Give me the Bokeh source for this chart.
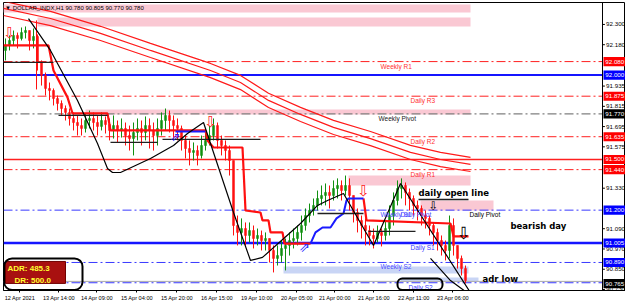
from bokeh.plotting import figure
from bokeh.models import Range1d, FixedTicker, Span, BoxAnnotation
from bokeh.core.properties import value
from bokeh.embed import file_html
from bokeh.resources import INLINE

# ---------------- data ----------------
# H1 candles sampled every 2 bars (bar index, price)
first_open = 92.146
close = [92.175, 92.205, 92.235, 92.217, 92.252, 92.264, 92.205, 92.229, 92.075, 91.998,
         91.921, 91.909, 91.861, 91.832, 91.802, 91.779, 91.743, 91.719, 91.701, 91.684,
         91.731, 91.743, 91.719, 91.696, 91.731, 91.707, 91.672, 91.701, 91.672, 91.684,
         91.642, 91.624, 91.660, 91.684, 91.660, 91.701, 91.672, 91.642, 91.684, 91.731,
         91.761, 91.731, 91.701, 91.684, 91.613, 91.565, 91.542, 91.553, 91.524, 91.583,
         91.613, 91.642, 91.701, 91.613, 91.583, 91.553, 91.494, 91.109, 91.068, 91.091,
         91.050, 91.079, 91.032, 91.050, 91.020, 91.032, 90.961, 90.914, 90.931, 90.973,
         90.991, 91.020, 91.032, 91.068, 91.109, 91.168, 91.198, 91.228, 91.269, 91.287,
         91.305, 91.287, 91.328, 91.346, 91.316, 91.346, 91.287, 91.186, 91.139, 91.109,
         91.079, 91.050, 91.032, 91.068, 91.050, 91.091, 91.168, 91.257, 91.328, 91.346,
         91.305, 91.269, 91.228, 91.210, 91.168, 91.151, 91.109, 91.068, 91.020, 90.991,
         90.961, 91.109, 90.991, 90.914, 90.854, 90.783]
high = [92.217, 92.235, 92.264, 92.252, 92.282, 92.288, 92.264, 92.276, 92.241, 92.087,
        92.015, 91.956, 91.921, 91.879, 91.850, 91.820, 91.802, 91.779, 91.761, 91.743,
        91.773, 91.790, 91.779, 91.761, 91.779, 91.755, 91.743, 91.761, 91.731, 91.743,
        91.719, 91.701, 91.719, 91.743, 91.731, 91.755, 91.743, 91.719, 91.743, 91.779,
        91.802, 91.790, 91.761, 91.743, 91.701, 91.642, 91.613, 91.601, 91.583, 91.642,
        91.684, 91.701, 91.743, 91.719, 91.642, 91.613, 91.583, 91.494, 91.168, 91.151,
        91.127, 91.127, 91.109, 91.091, 91.079, 91.068, 91.032, 90.991, 90.991, 91.020,
        91.032, 91.068, 91.091, 91.109, 91.168, 91.210, 91.239, 91.269, 91.316, 91.346,
        91.358, 91.346, 91.376, 91.388, 91.376, 91.405, 91.388, 91.287, 91.210, 91.168,
        91.151, 91.109, 91.091, 91.109, 91.091, 91.139, 91.228, 91.305, 91.376, 91.388,
        91.364, 91.328, 91.287, 91.257, 91.228, 91.198, 91.168, 91.127, 91.091, 91.050,
        91.020, 91.168, 91.151, 90.991, 90.931, 90.872]
low = [92.087, 92.146, 92.175, 92.158, 92.205, 92.217, 92.146, 92.158, 92.027, 91.938,
       91.879, 91.850, 91.820, 91.790, 91.761, 91.731, 91.701, 91.672, 91.642, 91.642,
       91.660, 91.684, 91.672, 91.642, 91.672, 91.654, 91.613, 91.624, 91.601, 91.630,
       91.583, 91.553, 91.524, 91.613, 91.583, 91.613, 91.565, 91.553, 91.583, 91.642,
       91.672, 91.660, 91.624, 91.613, 91.553, 91.506, 91.465, 91.494, 91.465, 91.506,
       91.553, 91.583, 91.613, 91.565, 91.524, 91.494, 91.405, 91.050, 90.991, 90.991,
       90.991, 91.008, 90.973, 90.991, 90.961, 90.961, 90.890, 90.831, 90.872, 90.890,
       90.843, 90.931, 90.973, 90.991, 91.020, 91.079, 91.127, 91.168, 91.198, 91.228,
       91.228, 91.210, 91.257, 91.269, 91.257, 91.287, 91.198, 91.127, 91.068, 91.032,
       90.991, 90.991, 90.973, 91.008, 90.985, 91.020, 91.050, 91.109, 91.228, 91.269,
       91.228, 91.198, 91.168, 91.139, 91.109, 91.091, 91.050, 90.991, 90.961, 90.931,
       90.902, 90.914, 90.931, 90.854, 90.813, 90.766]

# moving-average envelope (bar, price)
env_bar = [0, 23.5, 48.5, 73.5, 103.5, 118.5, 132.5, 148.5, 165, 183.5, 203.5, 218.5, 233.5]
env_upper = [92.437, 92.377, 92.289, 92.188, 92.069, 91.998, 91.892, 91.809, 91.732, 91.666, 91.584, 91.542, 91.513]
env_mid = [92.395, 92.335, 92.247, 92.146, 92.027, 91.956, 91.850, 91.767, 91.690, 91.624, 91.542, 91.500, 91.471]
env_lower = [92.353, 92.293, 92.205, 92.104, 91.985, 91.914, 91.808, 91.725, 91.648, 91.582, 91.500, 91.458, 91.429]

# trailing stop lines
red_bar_a = [0, 22.5, 25, 32, 34.5, 52, 53.5, 101, 102, 105, 119.5, 121, 128.5, 129.5, 132.5, 133.5, 139.5, 140.5, 153.5]
red_val_a = [92.176, 92.176, 92.027, 91.868, 91.773, 91.773, 91.672, 91.672, 91.613, 91.571, 91.571, 91.198, 91.186, 91.139, 91.139, 91.068, 91.068, 91.002, 91.002]
red_bar_b = [180, 181.5, 223.5, 225, 232.5]
red_val_b = [91.269, 91.139, 91.121, 91.045, 91.045]
blue_bar_a = [153.5, 156, 159.5, 163.5, 166.5, 170, 171.5, 172.5, 180]
blue_val_a = [91.002, 91.068, 91.097, 91.097, 91.151, 91.180, 91.257, 91.269, 91.269]
blue_bar_b = [86, 101]
blue_val_b = [91.666, 91.666]
red_spike_bar = [16.5, 16.5]
red_spike_val = [92.324, 91.915]

# zigzag
zz_bar = [12.5, 23.5, 37, 47, 52, 54.5, 58.5, 73.5, 85, 92, 100, 115, 123.5, 129.5, 148.5, 157, 162, 170, 185, 198.5, 235]
zz_val = [92.335, 92.146, 91.850, 91.595, 91.447, 91.423, 91.423, 91.506, 91.583, 91.654, 91.719, 91.186, 90.902,
          90.920, 91.121, 91.228, 91.257, 91.299, 90.991, 91.358, 90.683]
zz2_bar = [213.5, 223.5, 235]
zz2_val = [90.914, 90.783, 90.683]

# daily open segments
dopen_x0 = [0, 27.5, 53.5, 79.5, 157, 182.5, 207.5]
dopen_x1 = [25, 52, 77, 128.5, 180, 206, 232.5]
dopen_val = [92.075, 91.761, 91.601, 91.619, 91.180, 91.074, 91.263]

# supply / demand zones
zone_x0 = [0, 17, 41, 172.5, 208.5, 140, 198.5]
zone_x1 = [233.5, 233.5, 233.5, 233.5, 245, 232.5, 237.5]
zone_lo = [92.371, 92.288, 91.767, 91.346, 91.198, 90.825, 90.781]
zone_hi = [92.418, 92.341, 91.796, 91.405, 91.257, 90.866, 90.801]
zone_col = ["#fac8d3", "#fac8d3", "#fac8d3", "#fac8d3", "#fac8d3", "#c9d5f5", "#c9d5f5"]

# pivot levels
level_val = [92.080, 92.000, 91.875, 91.770, 91.635, 91.500, 91.440, 91.200, 91.005, 90.890, 90.770, 90.778]
level_col = ["#ff2020", "#1515ff", "#ff2020", "#808080", "#ff2020", "#ff2020", "#ff2020", "#3a3aff", "#1515ff", "#3a3aff", "#3a3aff", "#a8a8a8"]
level_dash = ["9 3 2 3", "solid", "9 3 2 3", "9 3 2 3", "9 3 2 3", "solid", "9 3 2 3", "9 3 2 3", "solid", "9 3 2 3", "9 3 2 3", "solid"]
level_w = [1, 2, 1, 1.2, 1, 1.5, 1, 1, 2.5, 1, 1, 1]

lvl_text = ["Weekly R1", "Daily R3", "Weekly Pivot", "Daily R2", "Daily R1", "Weekly S1", "Daily Pivot", "Daily S1", "Weekly S2", "Daily S2"]
lvl_text_val = [92.080, 91.875, 91.770, 91.635, 91.440, 91.200, 91.200, 91.005, 90.890, 90.770]
lvl_text_bar = [188.5, 203.5, 187.5, 203.5, 203.5, 188.5, 198.5, 203.5, 188.5, 202.5]
lvl_text_col = ["#ff3030", "#ff3030", "#202020", "#ff3030", "#ff3030", "#4a4aff", "#4a4aff", "#3a3aff", "#4a4aff", "#3a3aff"]

# price tags on the right scale
tag_val = [92.080, 92.000, 91.875, 91.770, 91.635, 91.500, 91.440, 91.200, 91.005, 90.890, 90.765]
tag_bg = ["#ff0000", "#0000ff", "#ff0000", "#000000", "#ff0000", "#ff0000", "#ff0000", "#0000ff", "#0000ff", "#0000ff", "#000000"]

# arrows
arrow_bar = [3, 103.5, 180, 215, 230, 150.5, 86]
arrow_val = [92.247, 91.725, 91.316, 91.222, 91.062, 90.979, 91.636]
arrow_sym = ["⇩", "⇩", "⇩", "⇩", "⇩", "⇗", "⇗"]
arrow_col = ["#ff2020", "#ff2020", "#ff2020", "#000000", "#000000", "#2020ff", "#2020ff"]
arrow_size = ["15px", "15px", "15px", "12px", "17px", "13px", "12px"]

# axis ticks
price_ticks = [92.300, 92.180, 91.935, 91.815, 91.695, 91.575, 91.330, 91.090, 90.970, 90.850, 90.730]
time_bars = [0, 19.5, 38.5, 58.5, 78.5, 98.5, 118.5, 138.5, 157.5, 177, 197, 216.5]
time_labels = ["12 Apr 2021", "13 Apr 14:00", "14 Apr 09:00", "15 Apr 04:00", "15 Apr 20:00", "16 Apr 15:00",
               "19 Apr 10:00", "20 Apr 05:00", "21 Apr 00:00", "21 Apr 16:00", "22 Apr 11:00", "23 Apr 06:00"]

title_text = "DOLLAR_INDX,H1  90.780 90.805 90.770 90.780"
adr_lines = ["ADR: 485.3", "DR: 500.0"]

# chart area ends at bar CHART_END, price scale occupies the rest
CHART_END = 299.5
X_END = 311.0
LABEL_SHIFT = 8.2  # labels start at their bar (MT4 style): tick placed at label centre

# ---------------- figure ----------------
FONT = "Liberation Sans"
p = figure(width=625, height=306, output_backend="svg", toolbar_location=None,
           x_range=Range1d(0, X_END), y_range=Range1d(90.724, 92.430),
           y_axis_location=None, min_border_left=3, min_border_top=2,
           min_border_right=0, min_border_bottom=16)
p.xgrid.visible = False
p.ygrid.visible = False
p.outline_line_color = "black"
p.background_fill_color = "white"

tick_pos = [b + LABEL_SHIFT for b in time_bars]
ax = p.xaxis[0]
ax.axis_line_color = "black"
ax.major_tick_line_color = "black"
ax.minor_tick_line_color = None
ax.major_tick_in = 0
ax.major_tick_out = 2
ax.major_label_standoff = 2
ax.major_label_text_font = FONT
ax.major_label_text_font_size = "5.6px"
ax.major_label_text_color = "black"
ax.ticker = FixedTicker(ticks=tick_pos)
ax.major_label_overrides = {t: s for t, s in zip(tick_pos, time_labels)}

# zones
p.quad(left=zone_x0, right=zone_x1, bottom=zone_lo, top=zone_hi, fill_color=zone_col, line_color=None)

# levels (stop at the price scale)
for v, c, d, w in zip(level_val, level_col, level_dash, level_w):
    p.segment(x0=[0], y0=[v], x1=[CHART_END], y1=[v], line_color=c, line_dash=d, line_width=w)

# envelope
for arr in (env_upper, env_mid, env_lower):
    p.line(env_bar, arr, line_color="#ff1a1a", line_width=1.2)

# candles
opens = [first_open] + close[:-1]
cbar = [1 + 2 * i for i in range(len(close))]
ccol = ["#109010" if c >= o else "#ff1010" for o, c in zip(opens, close)]
p.segment(x0=cbar, y0=low, x1=cbar, y1=high, line_color=ccol, line_width=1)
p.vbar(x=cbar, width=1.0, top=[max(o, c) for o, c in zip(opens, close)],
       bottom=[min(o, c) for o, c in zip(opens, close)], fill_color=ccol, line_color=ccol, line_width=0.5)

# trailing lines
p.line(red_bar_a, red_val_a, line_color="#ff1010", line_width=2.2)
p.line(red_bar_b, red_val_b, line_color="#ff1010", line_width=2.2)
p.line(red_spike_bar, red_spike_val, line_color="#ff1010", line_width=1)
p.line(blue_bar_a, blue_val_a, line_color="#1a1aff", line_width=2)
p.line(blue_bar_b, blue_val_b, line_color="#1a1aff", line_width=2)

# daily opens
p.segment(x0=dopen_x0, y0=dopen_val, x1=dopen_x1, y1=dopen_val, line_color="#202020", line_width=1.3)

# zigzag
p.line(zz_bar, zz_val, line_color="black", line_width=1.2)
p.line(zz2_bar, zz2_val, line_color="black", line_width=1.2)

# arrows
p.text(x=arrow_bar, y=arrow_val, text=arrow_sym, text_color=arrow_col, text_font_size=arrow_size,
       text_font=value("DejaVu Sans"), text_align="center", text_baseline="middle")

# level labels
p.text(x=lvl_text_bar, y=lvl_text_val, text=lvl_text, text_color=lvl_text_col, text_font=value(FONT),
       text_font_size="6.5px", text_align="left", text_baseline="top", y_offset=1)

# annotations
p.text(x=[207.5], y=[91.269], text=["daily open line"], text_font=value("DejaVu Sans"), text_font_style="bold",
       text_font_size="8.5px", text_color="black", text_align="left", text_baseline="bottom")
p.text(x=[253.5], y=[91.109], text=["bearish day"], text_font=value("DejaVu Sans"), text_font_style="bold",
       text_font_size="8.5px", text_color="black", text_align="left", text_baseline="middle")
p.text(x=[239.5], y=[90.795], text=["adr low"], text_font=value("DejaVu Sans"), text_font_style="bold",
       text_font_size="8.5px", text_color="black", text_align="left", text_baseline="middle")
p.text(x=[233], y=[91.174], text=["Daily Pivot"], text_font=value(FONT),
       text_font_size="6.5px", text_color="black", text_align="left", text_baseline="middle")
p.text(x=[0.8], y=[92.397], text=["▼ " + title_text], text_font=value(FONT),
       text_font_size="6px", text_color="black", text_align="left", text_baseline="middle")

# ADR panel
p.quad(left=[1], right=[31], bottom=[90.766], top=[90.896], fill_color="#a81010", line_color="#700000")
p.text(x=[2, 5.5], y=[90.854, 90.783], text=adr_lines, text_font=value(FONT), text_font_style="bold",
       text_font_size="8px", text_color="#ffff30", text_align="left", text_baseline="middle")
p.add_layout(BoxAnnotation(left=0.3, right=39.5, bottom=90.727, top=90.914, fill_alpha=0,
                           line_color="black", line_alpha=1, line_width=2, border_radius=8))
p.add_layout(BoxAnnotation(left=197, right=219.5, bottom=90.727, top=90.795, fill_alpha=0,
                           line_color="black", line_alpha=1, line_width=2, border_radius=5))

# ---- price scale (right side of the chart window) ----
p.add_layout(Span(location=CHART_END, dimension="height", line_color="black", line_width=1))
p.segment(x0=[CHART_END] * len(price_ticks), y0=price_ticks, x1=[CHART_END + 1.2] * len(price_ticks),
          y1=price_ticks, line_color="black", line_width=1)
p.text(x=[CHART_END + 1.8] * len(price_ticks), y=price_ticks, text=["%.3f" % v for v in price_ticks],
       text_font=value(FONT), text_font_size="6.2px", text_color="black",
       text_align="left", text_baseline="middle")
p.quad(left=[CHART_END + 0.5] * len(tag_val), right=[X_END] * len(tag_val),
       bottom=[v - 0.027 for v in tag_val], top=[v + 0.027 for v in tag_val],
       fill_color=tag_bg, line_color=None)
p.text(x=[CHART_END + 1.4] * len(tag_val), y=tag_val, text=["%.3f" % v for v in tag_val],
       text_font=value(FONT), text_font_size="6.2px", text_color="white",
       text_align="left", text_baseline="middle")

open("out.html", "w").write(file_html(p, INLINE))
